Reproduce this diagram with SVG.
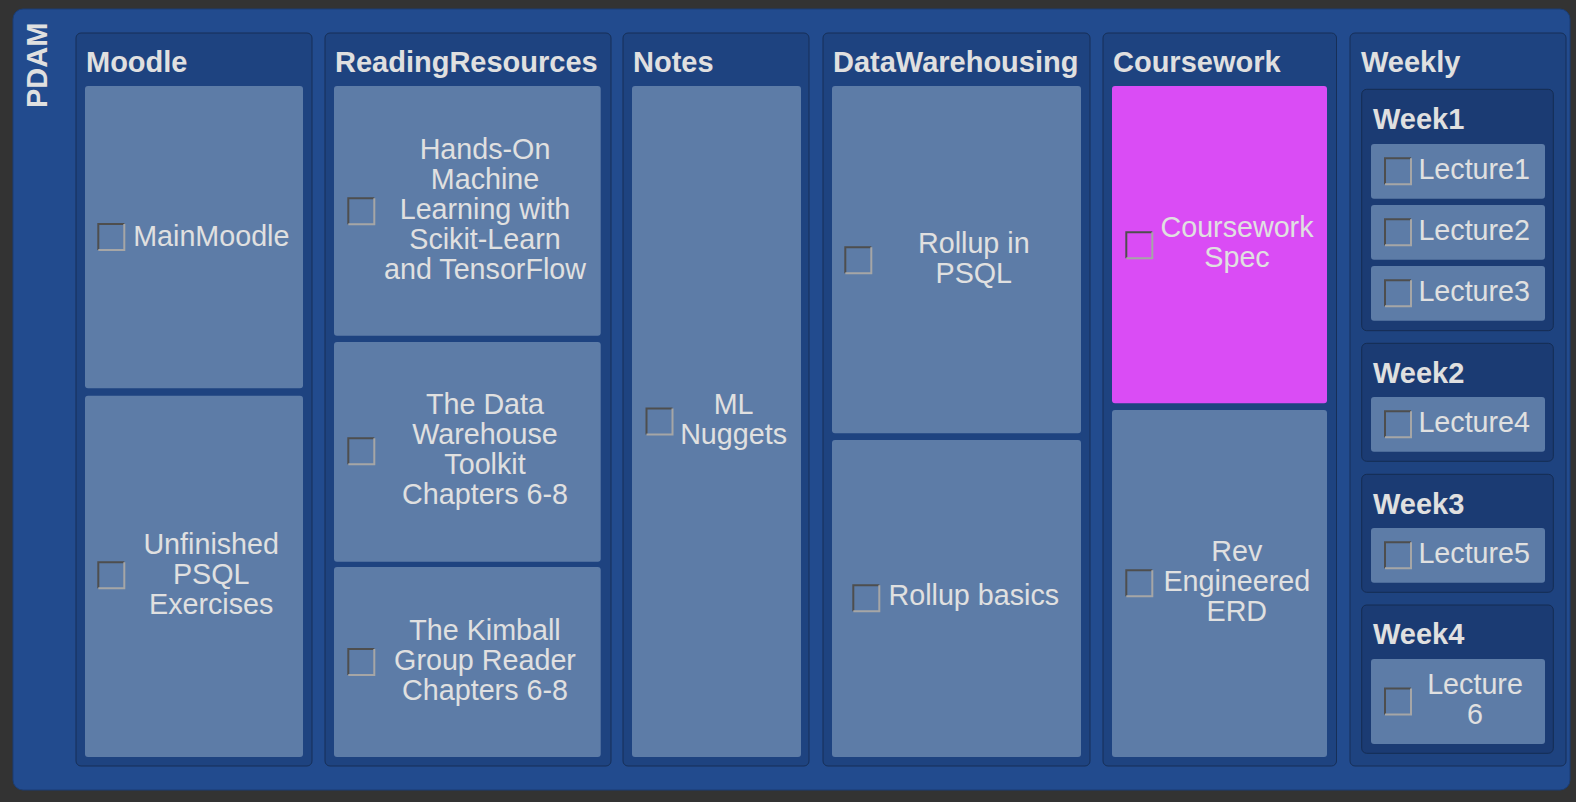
<svg xmlns="http://www.w3.org/2000/svg" xmlns:xlink="http://www.w3.org/1999/xlink" width="1576" height="802" viewBox="0 0 1576 802">
<style>
.bg{fill:#333333}
.pdam{fill:#224b8e;stroke:#1b3d74;stroke-width:1}
.col{fill:#1e4380;stroke:#172f57;stroke-width:1}
.week{fill:#1b3b73;stroke:#152c52;stroke-width:1}
.card{fill:#5d7ca7}
.hot{fill:#da4cf5}
.t{font-family:"Liberation Sans",Arial,Helvetica,sans-serif;font-size:28.7px;fill:#e0e0e0}
.c{text-anchor:middle}
.b{font-weight:bold;font-size:29px}
</style>
<defs>
<g id="cb">
<path d="M1,27V1H27" fill="none" stroke="#4e4e4e" stroke-width="2"/>
<path d="M1,27H27V1" fill="none" stroke="#a6a6a6" stroke-width="2"/>
</g>
</defs>
<rect class="bg" x="0" y="0" width="1576" height="802"/>
<g id="PDAM">
<rect class="pdam" x="13" y="9" width="1557" height="781" rx="10"/>
<text class="t b" transform="translate(46.5,108) rotate(-90)">PDAM</text>
</g>
<g id="Moodle">
<rect class="col" x="76" y="33" width="236" height="733" rx="5"/>
<text class="t b" x="86" y="71.7">Moodle</text>
<g id="MainMoodle">
<rect class="card" x="85" y="86" width="218" height="302.3" rx="3"/>
<use xlink:href="#cb" href="#cb" x="97.3" y="223"/>
<text class="t c" x="211.3" y="245.5">MainMoodle</text>
</g>
<g id="UnfinishedPSQLExercises">
<rect class="card" x="85" y="395.7" width="218" height="361.3" rx="3"/>
<use xlink:href="#cb" href="#cb" x="97.3" y="561.3"/>
<text class="t c"><tspan x="211.2" y="553.5">Unfinished</tspan><tspan x="211.2" y="583.5">PSQL</tspan><tspan x="211.2" y="613.5">Exercises</tspan></text>
</g>
</g>
<g id="ReadingResources">
<rect class="col" x="325" y="33" width="286" height="733" rx="5"/>
<text class="t b" x="335" y="71.7">ReadingResources</text>
<g id="HandsOnML">
<rect class="card" x="334" y="86" width="266.7" height="249.7" rx="3"/>
<use xlink:href="#cb" href="#cb" x="347.3" y="197.3"/>
<text class="t c"><tspan x="485" y="159">Hands-On</tspan><tspan x="485" y="189">Machine</tspan><tspan x="485" y="219">Learning with</tspan><tspan x="485" y="249">Scikit-Learn</tspan><tspan x="485" y="279">and TensorFlow</tspan></text>
</g>
<g id="DataWarehouseToolkit">
<rect class="card" x="334" y="342" width="266.7" height="219.7" rx="3"/>
<use xlink:href="#cb" href="#cb" x="347.3" y="437.3"/>
<text class="t c"><tspan x="485" y="414">The Data</tspan><tspan x="485" y="444">Warehouse</tspan><tspan x="485" y="474">Toolkit</tspan><tspan x="485" y="504">Chapters 6-8</tspan></text>
</g>
<g id="KimballGroupReader">
<rect class="card" x="334" y="567" width="266.7" height="190" rx="3"/>
<use xlink:href="#cb" href="#cb" x="347.3" y="648"/>
<text class="t c"><tspan x="485" y="639.6">The Kimball</tspan><tspan x="485" y="669.6">Group Reader</tspan><tspan x="485" y="699.6">Chapters 6-8</tspan></text>
</g>
</g>
<g id="Notes">
<rect class="col" x="623" y="33" width="186" height="733" rx="5"/>
<text class="t b" x="633" y="71.7">Notes</text>
<g id="MLNuggets">
<rect class="card" x="632" y="86" width="169" height="671" rx="3"/>
<use xlink:href="#cb" href="#cb" x="645.5" y="407.5"/>
<text class="t c"><tspan x="733.6" y="414">ML</tspan><tspan x="733.6" y="444">Nuggets</tspan></text>
</g>
</g>
<g id="DataWarehousing">
<rect class="col" x="823" y="33" width="267" height="733" rx="5"/>
<text class="t b" x="833" y="71.7">DataWarehousing</text>
<g id="RollupInPSQL">
<rect class="card" x="832" y="86" width="249" height="347.3" rx="3"/>
<use xlink:href="#cb" href="#cb" x="844.3" y="246.3"/>
<text class="t c"><tspan x="973.8" y="252.7">Rollup in</tspan><tspan x="973.8" y="282.7">PSQL</tspan></text>
</g>
<g id="RollupBasics">
<rect class="card" x="832" y="440" width="249" height="317" rx="3"/>
<use xlink:href="#cb" href="#cb" x="852.3" y="584.3"/>
<text class="t c" x="973.8" y="604.5">Rollup basics</text>
</g>
</g>
<g id="Coursework">
<rect class="col" x="1103" y="33" width="233.5" height="733" rx="5"/>
<text class="t b" x="1113" y="71.7">Coursework</text>
<g id="CourseworkSpec">
<rect class="hot" x="1112" y="86" width="215" height="317.3" rx="3"/>
<use xlink:href="#cb" href="#cb" x="1125.3" y="231.3"/>
<text class="t c"><tspan x="1237" y="237.3">Coursework</tspan><tspan x="1237" y="267.3">Spec</tspan></text>
</g>
<g id="RevEngineeredERD">
<rect class="card" x="1112" y="410" width="215" height="347" rx="3"/>
<use xlink:href="#cb" href="#cb" x="1125.3" y="569.3"/>
<text class="t c"><tspan x="1236.8" y="560.7">Rev</tspan><tspan x="1236.8" y="590.7">Engineered</tspan><tspan x="1236.8" y="620.7">ERD</tspan></text>
</g>
</g>
<g id="Weekly">
<rect class="col" x="1350" y="33" width="216" height="733" rx="5"/>
<text class="t b" x="1361" y="71.7">Weekly</text>
<g id="Week1">
<rect class="week" x="1361.7" y="89.3" width="191.6" height="241.4" rx="5"/>
<text class="t b" x="1373" y="129">Week1</text>
<g id="Lecture1">
<rect class="card" x="1371" y="144" width="174" height="54.7" rx="3"/>
<use xlink:href="#cb" href="#cb" x="1384" y="157.3"/>
<text class="t c" x="1474.2" y="179">Lecture1</text>
</g>
<g id="Lecture2">
<rect class="card" x="1371" y="205" width="174" height="54.7" rx="3"/>
<use xlink:href="#cb" href="#cb" x="1384" y="218.3"/>
<text class="t c" x="1474.2" y="240">Lecture2</text>
</g>
<g id="Lecture3">
<rect class="card" x="1371" y="266" width="174" height="54.7" rx="3"/>
<use xlink:href="#cb" href="#cb" x="1384" y="279.3"/>
<text class="t c" x="1474.2" y="301">Lecture3</text>
</g>
</g>
<g id="Week2">
<rect class="week" x="1361.7" y="343.3" width="191.6" height="118" rx="5"/>
<text class="t b" x="1373" y="382.7">Week2</text>
<g id="Lecture4">
<rect class="card" x="1371" y="397" width="174" height="54.7" rx="3"/>
<use xlink:href="#cb" href="#cb" x="1384" y="410.3"/>
<text class="t c" x="1474.2" y="432">Lecture4</text>
</g>
</g>
<g id="Week3">
<rect class="week" x="1361.7" y="474.3" width="191.6" height="118" rx="5"/>
<text class="t b" x="1373" y="514">Week3</text>
<g id="Lecture5">
<rect class="card" x="1371" y="528" width="174" height="54.7" rx="3"/>
<use xlink:href="#cb" href="#cb" x="1384" y="541.3"/>
<text class="t c" x="1474.2" y="563">Lecture5</text>
</g>
</g>
<g id="Week4">
<rect class="week" x="1361.7" y="605" width="191.6" height="148.3" rx="5"/>
<text class="t b" x="1373" y="644.3">Week4</text>
<g id="Lecture6">
<rect class="card" x="1371" y="659" width="174" height="85" rx="3"/>
<use xlink:href="#cb" href="#cb" x="1384" y="687.5"/>
<text class="t c"><tspan x="1475" y="694.3">Lecture</tspan><tspan x="1475" y="724">6</tspan></text>
</g>
</g>
</g>
<g id="connectors"/>
</svg>
